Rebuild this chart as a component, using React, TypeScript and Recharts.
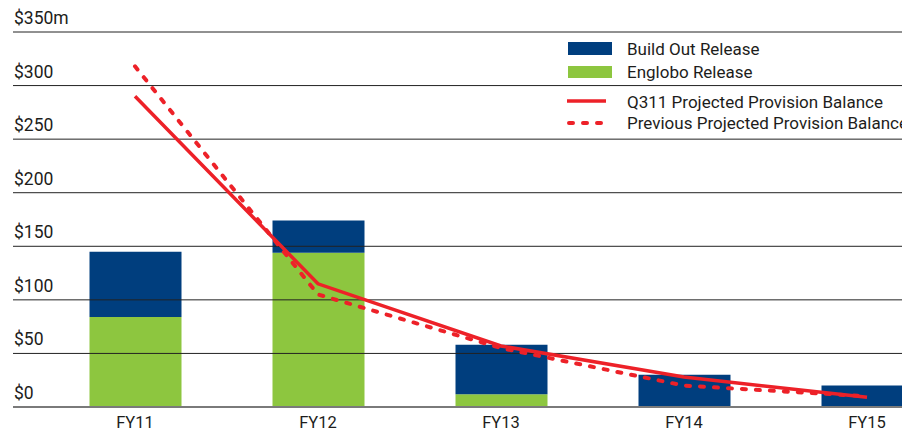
import React from "react";
import {
  ComposedChart,
  Bar,
  Line,
  XAxis,
  YAxis,
  ReferenceLine,
  Legend,
} from "recharts";

// ---- data ----
const years = ["FY11", "FY12", "FY13", "FY14", "FY15"];
const englobo = [84, 144, 12, 0, 0];
const buildOut = [61, 30, 46, 30, 20];
const q311 = [290, 115, 57, 28, 9];
const previous = [318, 105, 55, 20, 10];
const yTicks = [0, 50, 100, 150, 200, 250, 300, 350];
const gridValues = [50, 100, 150, 200, 250, 300, 350];
const legendLabels = [
  "Build Out Release",
  "Englobo Release",
  "Q311 Projected Provision Balance",
  "Previous Projected Provision Balance",
];

const data = years.map((y, i) => ({
  year: y,
  englobo: englobo[i],
  buildOut: buildOut[i],
  q311: q311[i],
  previous: previous[i],
}));

const NAVY = "#003E7E";
const GREEN = "#8DC63F";
const RED = "#ED2128";
const TEXT = "#1d1d1b";
const FONT = "Roboto, 'Noto Sans', sans-serif";

const YTick = (props: any) => {
  const { y, payload } = props;
  const v = payload.value;
  const label = v === 350 ? "$350m" : `$${v}`;
  return (
    <text x={14} y={y - 8} textAnchor="start" fill={TEXT} fontSize={17.5} fontFamily={FONT}>
      {label}
    </text>
  );
};

const XTick = (props: any) => {
  const { x, y, payload } = props;
  return (
    <text x={x} y={y} dy={21} textAnchor="middle" fill={TEXT} fontSize={16.5} fontFamily={FONT}>
      {payload.value}
    </text>
  );
};

const LegendContent = () => (
  <svg width={345} height={110} style={{ display: "block" }}>
    <rect x={8} y={10} width={44} height={13} fill={NAVY} />
    <text x={67} y={23} fill={TEXT} fontSize={17} fontFamily={FONT}>{legendLabels[0]}</text>
    <rect x={8} y={34} width={44} height={12} fill={GREEN} />
    <text x={67} y={45.5} fill={TEXT} fontSize={17} fontFamily={FONT}>{legendLabels[1]}</text>
    <line x1={7} x2={46} y1={69} y2={69} stroke={RED} strokeWidth={3.5} />
    <text x={67} y={75.5} fill={TEXT} fontSize={17} fontFamily={FONT}>{legendLabels[2]}</text>
    <line x1={9} x2={46} y1={91} y2={91} stroke={RED} strokeWidth={4} strokeDasharray="4 10" strokeLinecap="round" />
    <text x={67} y={97} fill={TEXT} fontSize={17} fontFamily={FONT}>{legendLabels[3]}</text>
  </svg>
);

export default function App() {
  return (
    <div
      style={{
        position: "fixed",
        left: 0,
        top: 0,
        width: 902,
        height: 432,
        overflow: "hidden",
        background: "#fff",
      }}
    >
      <ComposedChart
        width={960}
        height={432}
        data={data}
        margin={{ top: 32, right: 0, bottom: 0, left: 0 }}
      >
        <XAxis
          dataKey="year"
          height={25}
          padding={{ left: 30.5, right: 1.5 }}
          axisLine={{ stroke: "#7a7a7a", strokeWidth: 2 }}
          tickLine={false}
          tickSize={0}
          tickMargin={0}
          tick={<XTick />}
          interval={0}
        />
        <YAxis
          domain={[0, 350]}
          ticks={yTicks}
          width={13}
          axisLine={false}
          tickLine={false}
          tickSize={0}
          tickMargin={0}
          tick={<YTick />}
          interval={0}
        />
        <Bar dataKey="englobo" stackId="a" fill={GREEN} barSize={92} isAnimationActive={false} />
        <Bar dataKey="buildOut" stackId="a" fill={NAVY} barSize={92} isAnimationActive={false} />
        {gridValues.map((v) => (
          <ReferenceLine key={v} y={v} stroke="#222" strokeWidth={1} ifOverflow="extendDomain" />
        ))}
        <Line
          type="linear"
          dataKey="previous"
          stroke={RED}
          strokeWidth={4}
          strokeDasharray="4 10"
          strokeLinecap="round"
          dot={false}
          isAnimationActive={false}
        />
        <Line
          type="linear"
          dataKey="q311"
          stroke={RED}
          strokeWidth={3.5}
          dot={false}
          isAnimationActive={false}
        />
        <Legend
          layout="vertical"
          align="center"
          verticalAlign="middle"
          content={<LegendContent />}
          wrapperStyle={{ position: "absolute", left: 560, top: 32, width: 345, height: 110 }}
        />
      </ComposedChart>
    </div>
  );
}
